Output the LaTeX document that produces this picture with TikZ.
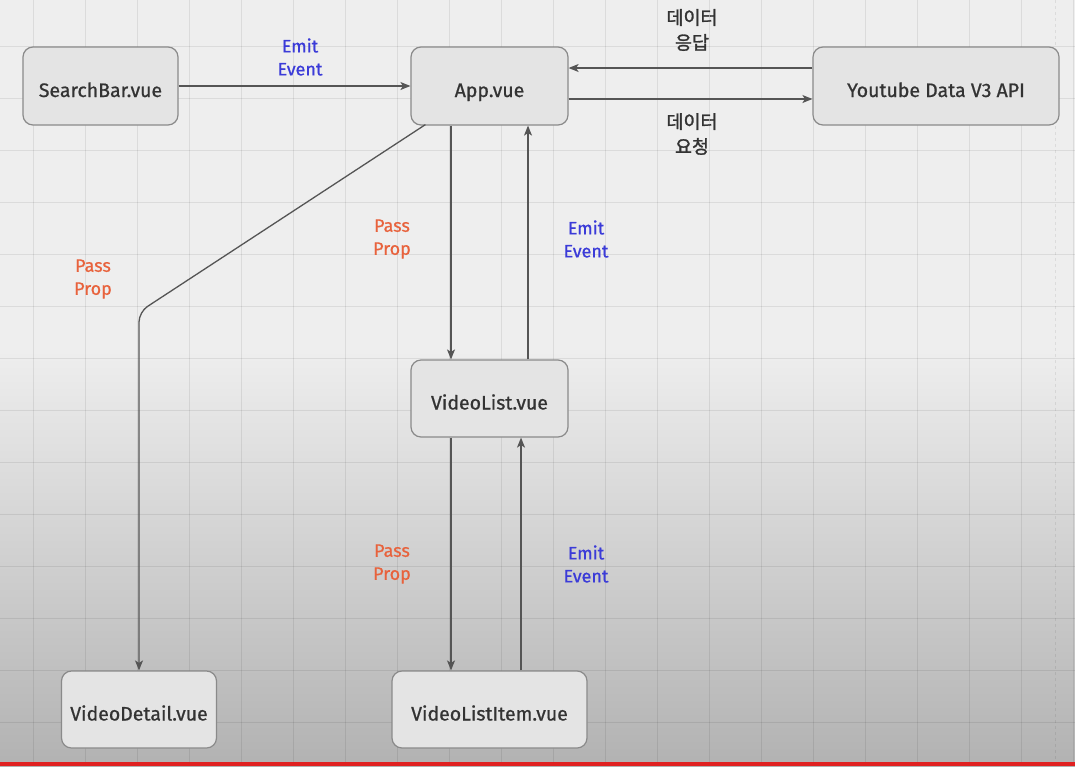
\documentclass[tikz,border=0pt]{standalone}
\usepackage{fontspec}
\setmainfont{Fira Sans}
\newfontfamily\nodefont{Fira Sans}[FakeBold=0.8]
\newfontfamily\kr{Noto Sans CJK KR}[FakeBold=1.5]
\usetikzlibrary{arrows.meta}
\definecolor{bgtop}{HTML}{EEEEEE}
\definecolor{bgbot}{HTML}{B2B2B2}
\definecolor{boxfill}{HTML}{E4E4E4}
\definecolor{boxline}{HTML}{8A8A8A}
\definecolor{txt}{HTML}{333333}
\definecolor{emitblue}{HTML}{3B3BD8}
\definecolor{passred}{HTML}{E8623C}
\definecolor{wire}{HTML}{555555}
\definecolor{redbar}{HTML}{E02020}
\tikzset{
  comp/.style={draw=boxline, line width=1.2pt, fill=boxfill, rounded corners=10pt,
    text=txt, font=\nodefont\fontsize{19.5}{22}\selectfont, inner sep=0pt,
    text height=22pt, text depth=0pt},
  wirearrow/.style={draw=wire, line width=1.3pt, -{Stealth[length=10pt,width=8pt,inset=2.5pt]}},
  emitlbl/.style={text=emitblue, font=\nodefont\fontsize{18}{23}\selectfont, align=center, inner sep=0pt},
  passlbl/.style={text=passred, font=\nodefont\fontsize{18}{23}\selectfont, align=center, inner sep=0pt},
  krlbl/.style={text=txt, font=\kr\fontsize{18.5}{25}\selectfont, align=center, inner sep=0pt},
  gridline/.style={draw=black, opacity=0.08, line width=1pt}
}
\begin{document}
\begin{tikzpicture}[x=1pt, y=-1pt]
\useasboundingbox (0,0) rectangle (1075,766);
% background
\fill[bgtop] (0,0) rectangle (1075,351);
\shade[top color=bgtop, bottom color=bgbot] (0,350) rectangle (1075,766);
\foreach \gx in {33,85,...,1073} \draw[gridline] (\gx,0) -- (\gx,766);
\foreach \gy in {46,98,...,766} \draw[gridline] (0,\gy) -- (1075,\gy);
\draw[gridline, dashed] (1055,0) -- (1055,766);
\fill[redbar] (0,762) rectangle (1075,766);

% components
\node[comp, minimum width=155pt, minimum height=78pt] (sb) at (100.5,86) {SearchBar.vue};
\node[comp, minimum width=157pt, minimum height=78pt] (app) at (489.5,86) {App.vue};
\node[comp, minimum width=246pt, minimum height=78pt] (yt) at (936,86) {Youtube Data V3 API};
\node[comp, minimum width=157pt, minimum height=77pt] (vl) at (489.5,398.5) {VideoList.vue};
\node[comp, minimum width=155pt, minimum height=77pt] (vd) at (139,709.5) {VideoDetail.vue};
\node[comp, minimum width=195pt, minimum height=77pt] (vli) at (489.5,709.5) {VideoListItem.vue};

% connectors
\draw[wirearrow] (sb.east) -- (app.west);
\draw[wirearrow] ([yshift=18pt]yt.west) -- ([yshift=18pt]app.east);
\draw[wirearrow] ([yshift=-13pt]app.east) -- ([yshift=-13pt]yt.west);
\draw[wirearrow] ([xshift=-38.5pt]app.south) -- ([xshift=-38.5pt]vl.north);
\draw[wirearrow] ([xshift=38.5pt]vl.north) -- ([xshift=38.5pt]app.south);
\draw[wirearrow] ([xshift=-38.5pt]vl.south) -- ([xshift=-38.5pt]vli.north);
\draw[wirearrow] ([xshift=31.5pt]vli.north) -- ([xshift=31.5pt]vl.south);
\coordinate (bend) at (139,312);
\draw[wirearrow, rounded corners=10pt] ([xshift=15pt,yshift=1pt]app.south west) -- (bend) -- (vd.north);

% labels
\node[emitlbl] (l1) at (300,57) {Emit\\Event};
\node[krlbl] (l2) at (692,30) {데이터\\응답};
\node[krlbl] (l3) at (692,134) {데이터\\요청};
\node[passlbl] (l4) at (392,239) {Pass\\Prop};
\node[emitlbl] (l5) at (586,239) {Emit\\Event};
\node[passlbl] (l6) at (93,279) {Pass\\Prop};
\node[passlbl] (l7) at (392,564) {Pass\\Prop};
\node[emitlbl] (l8) at (586,564) {Emit\\Event};
\end{tikzpicture}
\end{document}
